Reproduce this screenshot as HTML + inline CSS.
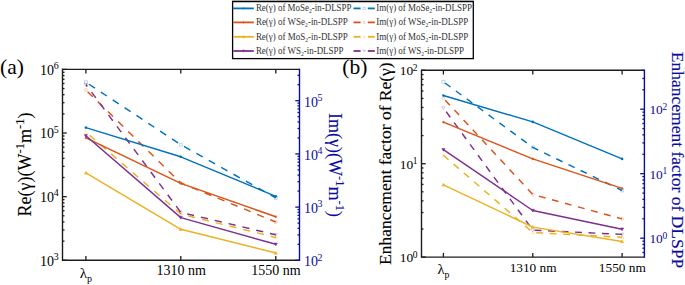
<!DOCTYPE html>
<html><head><meta charset="utf-8"><style>
html,body{margin:0;padding:0;background:#fff;width:685px;height:285px;overflow:hidden}
svg{display:block;font-family:"Liberation Serif", serif}
</style></head><body>
<svg width="685" height="285" viewBox="0 0 685 285">
<line x1="62.50" y1="69.40" x2="299.50" y2="69.40" stroke="#1c1c1c" stroke-width="1.4" />
<line x1="62.50" y1="260.30" x2="299.50" y2="260.30" stroke="#1c1c1c" stroke-width="1.4" />
<line x1="62.50" y1="68.70" x2="62.50" y2="261.00" stroke="#1c1c1c" stroke-width="1.4" />
<line x1="299.50" y1="68.70" x2="299.50" y2="261.00" stroke="#0c0c9c" stroke-width="1.4" />
<line x1="85.90" y1="260.30" x2="85.90" y2="256.10" stroke="#1c1c1c" stroke-width="1.3" />
<line x1="85.90" y1="69.40" x2="85.90" y2="73.60" stroke="#1c1c1c" stroke-width="1.3" />
<line x1="180.80" y1="260.30" x2="180.80" y2="256.10" stroke="#1c1c1c" stroke-width="1.3" />
<line x1="180.80" y1="69.40" x2="180.80" y2="73.60" stroke="#1c1c1c" stroke-width="1.3" />
<line x1="275.80" y1="260.30" x2="275.80" y2="256.10" stroke="#1c1c1c" stroke-width="1.3" />
<line x1="275.80" y1="69.40" x2="275.80" y2="73.60" stroke="#1c1c1c" stroke-width="1.3" />
<line x1="62.50" y1="260.30" x2="66.70" y2="260.30" stroke="#1c1c1c" stroke-width="1.3" />
<line x1="62.50" y1="241.14" x2="64.50" y2="241.14" stroke="#1c1c1c" stroke-width="1.3" />
<line x1="62.50" y1="229.94" x2="64.50" y2="229.94" stroke="#1c1c1c" stroke-width="1.3" />
<line x1="62.50" y1="221.99" x2="64.50" y2="221.99" stroke="#1c1c1c" stroke-width="1.3" />
<line x1="62.50" y1="215.82" x2="64.50" y2="215.82" stroke="#1c1c1c" stroke-width="1.3" />
<line x1="62.50" y1="210.78" x2="64.50" y2="210.78" stroke="#1c1c1c" stroke-width="1.3" />
<line x1="62.50" y1="206.52" x2="64.50" y2="206.52" stroke="#1c1c1c" stroke-width="1.3" />
<line x1="62.50" y1="202.83" x2="64.50" y2="202.83" stroke="#1c1c1c" stroke-width="1.3" />
<line x1="62.50" y1="199.58" x2="64.50" y2="199.58" stroke="#1c1c1c" stroke-width="1.3" />
<line x1="62.50" y1="196.67" x2="66.70" y2="196.67" stroke="#1c1c1c" stroke-width="1.3" />
<line x1="62.50" y1="177.51" x2="64.50" y2="177.51" stroke="#1c1c1c" stroke-width="1.3" />
<line x1="62.50" y1="166.31" x2="64.50" y2="166.31" stroke="#1c1c1c" stroke-width="1.3" />
<line x1="62.50" y1="158.36" x2="64.50" y2="158.36" stroke="#1c1c1c" stroke-width="1.3" />
<line x1="62.50" y1="152.19" x2="64.50" y2="152.19" stroke="#1c1c1c" stroke-width="1.3" />
<line x1="62.50" y1="147.15" x2="64.50" y2="147.15" stroke="#1c1c1c" stroke-width="1.3" />
<line x1="62.50" y1="142.89" x2="64.50" y2="142.89" stroke="#1c1c1c" stroke-width="1.3" />
<line x1="62.50" y1="139.20" x2="64.50" y2="139.20" stroke="#1c1c1c" stroke-width="1.3" />
<line x1="62.50" y1="135.95" x2="64.50" y2="135.95" stroke="#1c1c1c" stroke-width="1.3" />
<line x1="62.50" y1="133.03" x2="66.70" y2="133.03" stroke="#1c1c1c" stroke-width="1.3" />
<line x1="62.50" y1="113.88" x2="64.50" y2="113.88" stroke="#1c1c1c" stroke-width="1.3" />
<line x1="62.50" y1="102.67" x2="64.50" y2="102.67" stroke="#1c1c1c" stroke-width="1.3" />
<line x1="62.50" y1="94.72" x2="64.50" y2="94.72" stroke="#1c1c1c" stroke-width="1.3" />
<line x1="62.50" y1="88.56" x2="64.50" y2="88.56" stroke="#1c1c1c" stroke-width="1.3" />
<line x1="62.50" y1="83.52" x2="64.50" y2="83.52" stroke="#1c1c1c" stroke-width="1.3" />
<line x1="62.50" y1="79.26" x2="64.50" y2="79.26" stroke="#1c1c1c" stroke-width="1.3" />
<line x1="62.50" y1="75.57" x2="64.50" y2="75.57" stroke="#1c1c1c" stroke-width="1.3" />
<line x1="62.50" y1="72.31" x2="64.50" y2="72.31" stroke="#1c1c1c" stroke-width="1.3" />
<line x1="62.50" y1="69.40" x2="66.70" y2="69.40" stroke="#1c1c1c" stroke-width="1.3" />
<line x1="299.50" y1="260.30" x2="295.30" y2="260.30" stroke="#0c0c9c" stroke-width="1.3" />
<line x1="299.50" y1="244.29" x2="297.50" y2="244.29" stroke="#0c0c9c" stroke-width="1.3" />
<line x1="299.50" y1="234.92" x2="297.50" y2="234.92" stroke="#0c0c9c" stroke-width="1.3" />
<line x1="299.50" y1="228.27" x2="297.50" y2="228.27" stroke="#0c0c9c" stroke-width="1.3" />
<line x1="299.50" y1="223.11" x2="297.50" y2="223.11" stroke="#0c0c9c" stroke-width="1.3" />
<line x1="299.50" y1="218.90" x2="297.50" y2="218.90" stroke="#0c0c9c" stroke-width="1.3" />
<line x1="299.50" y1="215.34" x2="297.50" y2="215.34" stroke="#0c0c9c" stroke-width="1.3" />
<line x1="299.50" y1="212.26" x2="297.50" y2="212.26" stroke="#0c0c9c" stroke-width="1.3" />
<line x1="299.50" y1="209.53" x2="297.50" y2="209.53" stroke="#0c0c9c" stroke-width="1.3" />
<line x1="299.50" y1="207.10" x2="295.30" y2="207.10" stroke="#0c0c9c" stroke-width="1.3" />
<line x1="299.50" y1="191.09" x2="297.50" y2="191.09" stroke="#0c0c9c" stroke-width="1.3" />
<line x1="299.50" y1="181.72" x2="297.50" y2="181.72" stroke="#0c0c9c" stroke-width="1.3" />
<line x1="299.50" y1="175.07" x2="297.50" y2="175.07" stroke="#0c0c9c" stroke-width="1.3" />
<line x1="299.50" y1="169.91" x2="297.50" y2="169.91" stroke="#0c0c9c" stroke-width="1.3" />
<line x1="299.50" y1="165.70" x2="297.50" y2="165.70" stroke="#0c0c9c" stroke-width="1.3" />
<line x1="299.50" y1="162.14" x2="297.50" y2="162.14" stroke="#0c0c9c" stroke-width="1.3" />
<line x1="299.50" y1="159.06" x2="297.50" y2="159.06" stroke="#0c0c9c" stroke-width="1.3" />
<line x1="299.50" y1="156.33" x2="297.50" y2="156.33" stroke="#0c0c9c" stroke-width="1.3" />
<line x1="299.50" y1="153.90" x2="295.30" y2="153.90" stroke="#0c0c9c" stroke-width="1.3" />
<line x1="299.50" y1="137.89" x2="297.50" y2="137.89" stroke="#0c0c9c" stroke-width="1.3" />
<line x1="299.50" y1="128.52" x2="297.50" y2="128.52" stroke="#0c0c9c" stroke-width="1.3" />
<line x1="299.50" y1="121.87" x2="297.50" y2="121.87" stroke="#0c0c9c" stroke-width="1.3" />
<line x1="299.50" y1="116.71" x2="297.50" y2="116.71" stroke="#0c0c9c" stroke-width="1.3" />
<line x1="299.50" y1="112.50" x2="297.50" y2="112.50" stroke="#0c0c9c" stroke-width="1.3" />
<line x1="299.50" y1="108.94" x2="297.50" y2="108.94" stroke="#0c0c9c" stroke-width="1.3" />
<line x1="299.50" y1="105.86" x2="297.50" y2="105.86" stroke="#0c0c9c" stroke-width="1.3" />
<line x1="299.50" y1="103.13" x2="297.50" y2="103.13" stroke="#0c0c9c" stroke-width="1.3" />
<line x1="299.50" y1="100.70" x2="295.30" y2="100.70" stroke="#0c0c9c" stroke-width="1.3" />
<line x1="299.50" y1="84.69" x2="297.50" y2="84.69" stroke="#0c0c9c" stroke-width="1.3" />
<line x1="299.50" y1="75.32" x2="297.50" y2="75.32" stroke="#0c0c9c" stroke-width="1.3" />
<polyline points="85.90,82.20 180.80,144.70 275.80,197.90" fill="none" stroke="#0072BD" stroke-width="1.45" stroke-linejoin="round" stroke-dasharray="7.2,7.0" stroke-dashoffset="10.5"/>
<polyline points="85.90,90.00 180.80,183.00 275.80,222.00" fill="none" stroke="#D95319" stroke-width="1.45" stroke-linejoin="round" stroke-dasharray="7.2,7.0" stroke-dashoffset="11.8"/>
<polyline points="85.90,132.10 180.80,214.00 275.80,237.50" fill="none" stroke="#EDB120" stroke-width="1.45" stroke-linejoin="round" stroke-dasharray="7.2,7.0" stroke-dashoffset="9.2"/>
<polyline points="85.90,84.50 180.80,212.40 275.80,234.80" fill="none" stroke="#7E2F8E" stroke-width="1.45" stroke-linejoin="round" stroke-dasharray="7.2,7.0" stroke-dashoffset="4.7"/>
<rect x="84.46" y="80.76" width="2.89" height="2.89" fill="none" stroke="#0072BD" stroke-width="0.8" stroke-opacity="0.32"/>
<rect x="179.36" y="143.25" width="2.89" height="2.89" fill="none" stroke="#0072BD" stroke-width="0.8" stroke-opacity="0.32"/>
<rect x="274.36" y="196.46" width="2.89" height="2.89" fill="none" stroke="#0072BD" stroke-width="0.8" stroke-opacity="0.32"/>
<circle cx="85.90" cy="90.00" r="1.44" fill="none" stroke="#D95319" stroke-width="0.8" stroke-opacity="0.32"/>
<circle cx="180.80" cy="183.00" r="1.44" fill="none" stroke="#D95319" stroke-width="0.8" stroke-opacity="0.32"/>
<circle cx="275.80" cy="222.00" r="1.44" fill="none" stroke="#D95319" stroke-width="0.8" stroke-opacity="0.32"/>
<polygon points="85.90,130.48 84.29,133.39 87.52,133.39" fill="none" stroke="#EDB120" stroke-width="0.8" stroke-opacity="0.32"/>
<polygon points="180.80,212.38 179.19,215.29 182.42,215.29" fill="none" stroke="#EDB120" stroke-width="0.8" stroke-opacity="0.32"/>
<polygon points="275.80,235.88 274.19,238.79 277.42,238.79" fill="none" stroke="#EDB120" stroke-width="0.8" stroke-opacity="0.32"/>
<polygon points="85.90,86.11 84.29,83.21 87.52,83.21" fill="none" stroke="#7E2F8E" stroke-width="0.8" stroke-opacity="0.32"/>
<polygon points="180.80,214.02 179.19,211.11 182.42,211.11" fill="none" stroke="#7E2F8E" stroke-width="0.8" stroke-opacity="0.32"/>
<polygon points="275.80,236.42 274.19,233.51 277.42,233.51" fill="none" stroke="#7E2F8E" stroke-width="0.8" stroke-opacity="0.32"/>
<polyline points="85.90,127.60 180.80,156.80 275.80,196.30" fill="none" stroke="#0072BD" stroke-width="1.45" stroke-linejoin="round"/>
<polyline points="85.90,137.90 180.80,183.40 275.80,216.80" fill="none" stroke="#D95319" stroke-width="1.45" stroke-linejoin="round"/>
<polyline points="85.90,172.90 180.80,229.30 275.80,253.00" fill="none" stroke="#EDB120" stroke-width="1.45" stroke-linejoin="round"/>
<polyline points="85.90,135.80 180.80,217.60 275.80,244.30" fill="none" stroke="#7E2F8E" stroke-width="1.45" stroke-linejoin="round"/>
<circle cx="85.90" cy="127.60" r="1.28" fill="#0072BD"/>
<circle cx="180.80" cy="156.80" r="1.28" fill="#0072BD"/>
<circle cx="275.80" cy="196.30" r="1.28" fill="#0072BD"/>
<line x1="84.62" y1="137.90" x2="87.18" y2="137.90" stroke="#D95319" stroke-width="1.0" />
<line x1="85.90" y1="136.62" x2="85.90" y2="139.18" stroke="#D95319" stroke-width="1.0" />
<line x1="179.52" y1="183.40" x2="182.08" y2="183.40" stroke="#D95319" stroke-width="1.0" />
<line x1="180.80" y1="182.12" x2="180.80" y2="184.68" stroke="#D95319" stroke-width="1.0" />
<line x1="274.52" y1="216.80" x2="277.08" y2="216.80" stroke="#D95319" stroke-width="1.0" />
<line x1="275.80" y1="215.52" x2="275.80" y2="218.08" stroke="#D95319" stroke-width="1.0" />
<polygon points="85.90,171.38 84.38,174.12 87.42,174.12" fill="#EDB120" stroke="#EDB120" stroke-width="0.6"/>
<polygon points="180.80,227.78 179.28,230.52 182.32,230.52" fill="#EDB120" stroke="#EDB120" stroke-width="0.6"/>
<polygon points="275.80,251.48 274.28,254.22 277.32,254.22" fill="#EDB120" stroke="#EDB120" stroke-width="0.6"/>
<polygon points="85.90,137.32 84.38,134.58 87.42,134.58" fill="#7E2F8E" stroke="#7E2F8E" stroke-width="0.6"/>
<polygon points="180.80,219.12 179.28,216.38 182.32,216.38" fill="#7E2F8E" stroke="#7E2F8E" stroke-width="0.6"/>
<polygon points="275.80,245.82 274.28,243.08 277.32,243.08" fill="#7E2F8E" stroke="#7E2F8E" stroke-width="0.6"/>
<line x1="421.50" y1="70.30" x2="644.40" y2="70.30" stroke="#1c1c1c" stroke-width="1.4" />
<line x1="421.50" y1="257.10" x2="644.40" y2="257.10" stroke="#1c1c1c" stroke-width="1.4" />
<line x1="421.50" y1="69.60" x2="421.50" y2="257.80" stroke="#1c1c1c" stroke-width="1.4" />
<line x1="644.40" y1="69.60" x2="644.40" y2="257.80" stroke="#0c0c9c" stroke-width="1.4" />
<line x1="443.40" y1="257.10" x2="443.40" y2="252.90" stroke="#1c1c1c" stroke-width="1.3" />
<line x1="443.40" y1="70.30" x2="443.40" y2="74.50" stroke="#1c1c1c" stroke-width="1.3" />
<line x1="532.80" y1="257.10" x2="532.80" y2="252.90" stroke="#1c1c1c" stroke-width="1.3" />
<line x1="532.80" y1="70.30" x2="532.80" y2="74.50" stroke="#1c1c1c" stroke-width="1.3" />
<line x1="622.10" y1="257.10" x2="622.10" y2="252.90" stroke="#1c1c1c" stroke-width="1.3" />
<line x1="622.10" y1="70.30" x2="622.10" y2="74.50" stroke="#1c1c1c" stroke-width="1.3" />
<line x1="421.50" y1="257.10" x2="425.70" y2="257.10" stroke="#1c1c1c" stroke-width="1.3" />
<line x1="421.50" y1="228.98" x2="423.50" y2="228.98" stroke="#1c1c1c" stroke-width="1.3" />
<line x1="421.50" y1="212.54" x2="423.50" y2="212.54" stroke="#1c1c1c" stroke-width="1.3" />
<line x1="421.50" y1="200.87" x2="423.50" y2="200.87" stroke="#1c1c1c" stroke-width="1.3" />
<line x1="421.50" y1="191.82" x2="423.50" y2="191.82" stroke="#1c1c1c" stroke-width="1.3" />
<line x1="421.50" y1="184.42" x2="423.50" y2="184.42" stroke="#1c1c1c" stroke-width="1.3" />
<line x1="421.50" y1="178.17" x2="423.50" y2="178.17" stroke="#1c1c1c" stroke-width="1.3" />
<line x1="421.50" y1="172.75" x2="423.50" y2="172.75" stroke="#1c1c1c" stroke-width="1.3" />
<line x1="421.50" y1="167.97" x2="423.50" y2="167.97" stroke="#1c1c1c" stroke-width="1.3" />
<line x1="421.50" y1="163.70" x2="425.70" y2="163.70" stroke="#1c1c1c" stroke-width="1.3" />
<line x1="421.50" y1="135.58" x2="423.50" y2="135.58" stroke="#1c1c1c" stroke-width="1.3" />
<line x1="421.50" y1="119.14" x2="423.50" y2="119.14" stroke="#1c1c1c" stroke-width="1.3" />
<line x1="421.50" y1="107.47" x2="423.50" y2="107.47" stroke="#1c1c1c" stroke-width="1.3" />
<line x1="421.50" y1="98.42" x2="423.50" y2="98.42" stroke="#1c1c1c" stroke-width="1.3" />
<line x1="421.50" y1="91.02" x2="423.50" y2="91.02" stroke="#1c1c1c" stroke-width="1.3" />
<line x1="421.50" y1="84.77" x2="423.50" y2="84.77" stroke="#1c1c1c" stroke-width="1.3" />
<line x1="421.50" y1="79.35" x2="423.50" y2="79.35" stroke="#1c1c1c" stroke-width="1.3" />
<line x1="421.50" y1="74.57" x2="423.50" y2="74.57" stroke="#1c1c1c" stroke-width="1.3" />
<line x1="421.50" y1="70.30" x2="425.70" y2="70.30" stroke="#1c1c1c" stroke-width="1.3" />
<line x1="644.40" y1="252.51" x2="642.40" y2="252.51" stroke="#0c0c9c" stroke-width="1.3" />
<line x1="644.40" y1="248.19" x2="642.40" y2="248.19" stroke="#0c0c9c" stroke-width="1.3" />
<line x1="644.40" y1="244.45" x2="642.40" y2="244.45" stroke="#0c0c9c" stroke-width="1.3" />
<line x1="644.40" y1="241.15" x2="642.40" y2="241.15" stroke="#0c0c9c" stroke-width="1.3" />
<line x1="644.40" y1="238.20" x2="640.20" y2="238.20" stroke="#0c0c9c" stroke-width="1.3" />
<line x1="644.40" y1="218.78" x2="642.40" y2="218.78" stroke="#0c0c9c" stroke-width="1.3" />
<line x1="644.40" y1="207.43" x2="642.40" y2="207.43" stroke="#0c0c9c" stroke-width="1.3" />
<line x1="644.40" y1="199.37" x2="642.40" y2="199.37" stroke="#0c0c9c" stroke-width="1.3" />
<line x1="644.40" y1="193.12" x2="642.40" y2="193.12" stroke="#0c0c9c" stroke-width="1.3" />
<line x1="644.40" y1="188.01" x2="642.40" y2="188.01" stroke="#0c0c9c" stroke-width="1.3" />
<line x1="644.40" y1="183.69" x2="642.40" y2="183.69" stroke="#0c0c9c" stroke-width="1.3" />
<line x1="644.40" y1="179.95" x2="642.40" y2="179.95" stroke="#0c0c9c" stroke-width="1.3" />
<line x1="644.40" y1="176.65" x2="642.40" y2="176.65" stroke="#0c0c9c" stroke-width="1.3" />
<line x1="644.40" y1="173.70" x2="640.20" y2="173.70" stroke="#0c0c9c" stroke-width="1.3" />
<line x1="644.40" y1="154.28" x2="642.40" y2="154.28" stroke="#0c0c9c" stroke-width="1.3" />
<line x1="644.40" y1="142.93" x2="642.40" y2="142.93" stroke="#0c0c9c" stroke-width="1.3" />
<line x1="644.40" y1="134.87" x2="642.40" y2="134.87" stroke="#0c0c9c" stroke-width="1.3" />
<line x1="644.40" y1="128.62" x2="642.40" y2="128.62" stroke="#0c0c9c" stroke-width="1.3" />
<line x1="644.40" y1="123.51" x2="642.40" y2="123.51" stroke="#0c0c9c" stroke-width="1.3" />
<line x1="644.40" y1="119.19" x2="642.40" y2="119.19" stroke="#0c0c9c" stroke-width="1.3" />
<line x1="644.40" y1="115.45" x2="642.40" y2="115.45" stroke="#0c0c9c" stroke-width="1.3" />
<line x1="644.40" y1="112.15" x2="642.40" y2="112.15" stroke="#0c0c9c" stroke-width="1.3" />
<line x1="644.40" y1="109.20" x2="640.20" y2="109.20" stroke="#0c0c9c" stroke-width="1.3" />
<line x1="644.40" y1="89.78" x2="642.40" y2="89.78" stroke="#0c0c9c" stroke-width="1.3" />
<line x1="644.40" y1="78.43" x2="642.40" y2="78.43" stroke="#0c0c9c" stroke-width="1.3" />
<line x1="644.40" y1="70.37" x2="642.40" y2="70.37" stroke="#0c0c9c" stroke-width="1.3" />
<polyline points="443.40,81.80 532.80,147.40 622.10,190.50" fill="none" stroke="#0072BD" stroke-width="1.45" stroke-linejoin="round" stroke-dasharray="6.85,6.65" stroke-dashoffset="11.5"/>
<polyline points="443.40,98.20 532.80,194.50 622.10,218.90" fill="none" stroke="#D95319" stroke-width="1.45" stroke-linejoin="round" stroke-dasharray="6.85,6.65" stroke-dashoffset="10.8"/>
<polyline points="443.40,155.30 532.80,232.50 622.10,237.30" fill="none" stroke="#EDB120" stroke-width="1.45" stroke-linejoin="round" stroke-dasharray="6.85,6.65" stroke-dashoffset="0.0"/>
<polyline points="443.40,107.90 532.80,230.10 622.10,234.40" fill="none" stroke="#7E2F8E" stroke-width="1.45" stroke-linejoin="round" stroke-dasharray="6.85,6.65" stroke-dashoffset="8.8"/>
<rect x="441.95" y="80.36" width="2.89" height="2.89" fill="none" stroke="#0072BD" stroke-width="0.8" stroke-opacity="0.32"/>
<rect x="531.35" y="145.96" width="2.89" height="2.89" fill="none" stroke="#0072BD" stroke-width="0.8" stroke-opacity="0.32"/>
<rect x="620.65" y="189.06" width="2.89" height="2.89" fill="none" stroke="#0072BD" stroke-width="0.8" stroke-opacity="0.32"/>
<circle cx="443.40" cy="98.20" r="1.44" fill="none" stroke="#D95319" stroke-width="0.8" stroke-opacity="0.32"/>
<circle cx="532.80" cy="194.50" r="1.44" fill="none" stroke="#D95319" stroke-width="0.8" stroke-opacity="0.32"/>
<circle cx="622.10" cy="218.90" r="1.44" fill="none" stroke="#D95319" stroke-width="0.8" stroke-opacity="0.32"/>
<polygon points="443.40,153.69 441.78,156.59 445.01,156.59" fill="none" stroke="#EDB120" stroke-width="0.8" stroke-opacity="0.32"/>
<polygon points="532.80,230.88 531.18,233.79 534.41,233.79" fill="none" stroke="#EDB120" stroke-width="0.8" stroke-opacity="0.32"/>
<polygon points="622.10,235.69 620.49,238.59 623.72,238.59" fill="none" stroke="#EDB120" stroke-width="0.8" stroke-opacity="0.32"/>
<polygon points="443.40,109.52 441.78,106.61 445.01,106.61" fill="none" stroke="#7E2F8E" stroke-width="0.8" stroke-opacity="0.32"/>
<polygon points="532.80,231.72 531.18,228.81 534.41,228.81" fill="none" stroke="#7E2F8E" stroke-width="0.8" stroke-opacity="0.32"/>
<polygon points="622.10,236.02 620.49,233.11 623.72,233.11" fill="none" stroke="#7E2F8E" stroke-width="0.8" stroke-opacity="0.32"/>
<polyline points="443.40,95.50 532.80,121.90 622.10,158.90" fill="none" stroke="#0072BD" stroke-width="1.45" stroke-linejoin="round"/>
<polyline points="443.40,122.10 532.80,158.90 622.10,188.40" fill="none" stroke="#D95319" stroke-width="1.45" stroke-linejoin="round"/>
<polyline points="443.40,184.80 532.80,227.10 622.10,241.50" fill="none" stroke="#EDB120" stroke-width="1.45" stroke-linejoin="round"/>
<polyline points="443.40,149.70 532.80,210.50 622.10,229.20" fill="none" stroke="#7E2F8E" stroke-width="1.45" stroke-linejoin="round"/>
<circle cx="443.40" cy="95.50" r="1.28" fill="#0072BD"/>
<circle cx="532.80" cy="121.90" r="1.28" fill="#0072BD"/>
<circle cx="622.10" cy="158.90" r="1.28" fill="#0072BD"/>
<line x1="442.12" y1="122.10" x2="444.68" y2="122.10" stroke="#D95319" stroke-width="1.0" />
<line x1="443.40" y1="120.82" x2="443.40" y2="123.38" stroke="#D95319" stroke-width="1.0" />
<line x1="531.52" y1="158.90" x2="534.08" y2="158.90" stroke="#D95319" stroke-width="1.0" />
<line x1="532.80" y1="157.62" x2="532.80" y2="160.18" stroke="#D95319" stroke-width="1.0" />
<line x1="620.82" y1="188.40" x2="623.38" y2="188.40" stroke="#D95319" stroke-width="1.0" />
<line x1="622.10" y1="187.12" x2="622.10" y2="189.68" stroke="#D95319" stroke-width="1.0" />
<polygon points="443.40,183.28 441.88,186.02 444.92,186.02" fill="#EDB120" stroke="#EDB120" stroke-width="0.6"/>
<polygon points="532.80,225.58 531.28,228.32 534.32,228.32" fill="#EDB120" stroke="#EDB120" stroke-width="0.6"/>
<polygon points="622.10,239.98 620.58,242.72 623.62,242.72" fill="#EDB120" stroke="#EDB120" stroke-width="0.6"/>
<polygon points="443.40,151.22 441.88,148.48 444.92,148.48" fill="#7E2F8E" stroke="#7E2F8E" stroke-width="0.6"/>
<polygon points="532.80,212.02 531.28,209.28 534.32,209.28" fill="#7E2F8E" stroke="#7E2F8E" stroke-width="0.6"/>
<polygon points="622.10,230.72 620.58,227.98 623.62,227.98" fill="#7E2F8E" stroke="#7E2F8E" stroke-width="0.6"/>
<text x="58.60" y="265.50" font-size="14" fill="#000" text-anchor="end" >10<tspan font-size="9.94" dx="-0.4" dy="-5.60">3</tspan></text>
<text x="58.60" y="201.87" font-size="14" fill="#000" text-anchor="end" >10<tspan font-size="9.94" dx="-0.4" dy="-5.60">4</tspan></text>
<text x="58.60" y="138.23" font-size="14" fill="#000" text-anchor="end" >10<tspan font-size="9.94" dx="-0.4" dy="-5.60">5</tspan></text>
<text x="58.60" y="74.60" font-size="14" fill="#000" text-anchor="end" >10<tspan font-size="9.94" dx="-0.4" dy="-5.60">6</tspan></text>
<text x="304.00" y="266.10" font-size="14" fill="#0c0c9c" text-anchor="start" >10<tspan font-size="9.94" dx="-0.4" dy="-5.60">2</tspan></text>
<text x="304.00" y="212.90" font-size="14" fill="#0c0c9c" text-anchor="start" >10<tspan font-size="9.94" dx="-0.4" dy="-5.60">3</tspan></text>
<text x="304.00" y="159.70" font-size="14" fill="#0c0c9c" text-anchor="start" >10<tspan font-size="9.94" dx="-0.4" dy="-5.60">4</tspan></text>
<text x="304.00" y="106.50" font-size="14" fill="#0c0c9c" text-anchor="start" >10<tspan font-size="9.94" dx="-0.4" dy="-5.60">5</tspan></text>
<text x="417.50" y="262.20" font-size="13.4" fill="#000" text-anchor="end" >10<tspan font-size="9.51" dx="-0.4" dy="-4.42">0</tspan></text>
<text x="417.50" y="168.80" font-size="13.4" fill="#000" text-anchor="end" >10<tspan font-size="9.51" dx="-0.4" dy="-4.42">1</tspan></text>
<text x="417.50" y="75.40" font-size="13.4" fill="#000" text-anchor="end" >10<tspan font-size="9.51" dx="-0.4" dy="-4.42">2</tspan></text>
<text x="649.40" y="243.30" font-size="13.4" fill="#0c0c9c" text-anchor="start" >10<tspan font-size="9.51" dx="-0.4" dy="-4.42">0</tspan></text>
<text x="649.40" y="178.80" font-size="13.4" fill="#0c0c9c" text-anchor="start" >10<tspan font-size="9.51" dx="-0.4" dy="-4.42">1</tspan></text>
<text x="649.40" y="114.30" font-size="13.4" fill="#0c0c9c" text-anchor="start" >10<tspan font-size="9.51" dx="-0.4" dy="-4.42">2</tspan></text>
<text x="85.90" y="277.80" font-size="15" fill="#000" text-anchor="middle" >λ<tspan font-size="10.05" dy="4.20">p</tspan></text>
<text x="181.10" y="275.20" font-size="14" fill="#000" text-anchor="middle" >1310 nm</text>
<text x="276.00" y="275.20" font-size="14" fill="#000" text-anchor="middle" >1550 nm</text>
<text x="443.40" y="274.20" font-size="14.6" fill="#000" text-anchor="middle" >λ<tspan font-size="9.78" dy="4.09">p</tspan></text>
<text x="533.10" y="271.60" font-size="13.3" fill="#000" text-anchor="middle" >1310 nm</text>
<text x="622.30" y="271.60" font-size="13.3" fill="#000" text-anchor="middle" >1550 nm</text>
<text x="30.50" y="164.50" font-size="18" fill="#000" stroke="#000" stroke-width="0.1" text-anchor="middle" transform="rotate(-90 30.5 164.5)">Re(γ)(W<tspan font-size="12.5" dy="-7">-1</tspan><tspan dy="7">m</tspan><tspan font-size="12.5" dy="-7">-1</tspan><tspan dy="7">)</tspan></text>
<text x="329.00" y="165.00" font-size="18" fill="#0c0c9c" stroke="#0c0c9c" stroke-width="0.12" text-anchor="middle" transform="rotate(90 329 165)">Im(γ)(W<tspan font-size="12.5" dy="-7">-1</tspan><tspan dy="7">m</tspan><tspan font-size="12.5" dy="-7">-1</tspan><tspan dy="7">)</tspan></text>
<text x="391.40" y="163.60" font-size="17.5" fill="#000" stroke="#000" stroke-width="0.12" text-anchor="middle" transform="rotate(-90 391.4 163.6)">Enhancement factor of Re(γ)</text>
<text x="671.80" y="160.00" font-size="17.5" fill="#0c0c9c" stroke="#0c0c9c" stroke-width="0.15" text-anchor="middle" transform="rotate(90 671.8 160)">Enhancement factor of DLSPP</text>
<text x="0.00" y="74.30" font-size="21.5" fill="#000" text-anchor="start" >(a)</text>
<text x="342.30" y="74.30" font-size="21.5" fill="#000" text-anchor="start" >(b)</text>
<rect x="232" y="0" width="241.8" height="1" fill="#b2b2b2"/>
<rect x="232.6" y="1.6" width="240.70000000000002" height="57.0" fill="#fff" stroke="#000" stroke-width="1.3"/>
<line x1="233.20" y1="8.40" x2="253.80" y2="8.40" stroke="#0072BD" stroke-width="1.8" />
<circle cx="243.50" cy="8.40" r="0.96" fill="#0072BD"/>
<text x="255.90" y="11.10" font-size="9.5" fill="#333" text-anchor="start" textLength="95.6" lengthAdjust="spacingAndGlyphs">Re(γ) of MoSe<tspan font-size="6" dy="2.2">2</tspan><tspan dy="-2.2">-in-DLSPP</tspan></text>
<line x1="353.50" y1="8.40" x2="360.60" y2="8.40" stroke="#0072BD" stroke-width="1.8" />
<line x1="367.80" y1="8.40" x2="374.80" y2="8.40" stroke="#0072BD" stroke-width="1.8" />
<rect x="363.09" y="7.29" width="2.21" height="2.21" fill="none" stroke="#0072BD" stroke-width="0.8" stroke-opacity="0.32"/>
<text x="376.30" y="11.10" font-size="9.5" fill="#333" text-anchor="start" textLength="95.6" lengthAdjust="spacingAndGlyphs">Im(γ) of MoSe<tspan font-size="6" dy="2.2">2</tspan><tspan dy="-2.2">-in-DLSPP</tspan></text>
<line x1="233.20" y1="22.40" x2="253.80" y2="22.40" stroke="#D95319" stroke-width="1.8" />
<line x1="242.54" y1="22.40" x2="244.46" y2="22.40" stroke="#D95319" stroke-width="1.0" />
<line x1="243.50" y1="21.44" x2="243.50" y2="23.36" stroke="#D95319" stroke-width="1.0" />
<text x="255.90" y="25.10" font-size="9.5" fill="#333" text-anchor="start" textLength="91.9" lengthAdjust="spacingAndGlyphs">Re(γ) of WSe<tspan font-size="6" dy="2.2">2</tspan><tspan dy="-2.2">-in-DLSPP</tspan></text>
<line x1="353.50" y1="22.40" x2="360.60" y2="22.40" stroke="#D95319" stroke-width="1.8" />
<line x1="367.80" y1="22.40" x2="374.80" y2="22.40" stroke="#D95319" stroke-width="1.8" />
<circle cx="364.20" cy="22.40" r="1.10" fill="none" stroke="#D95319" stroke-width="0.8" stroke-opacity="0.32"/>
<text x="376.30" y="25.10" font-size="9.5" fill="#333" text-anchor="start" textLength="91.9" lengthAdjust="spacingAndGlyphs">Im(γ) of WSe<tspan font-size="6" dy="2.2">2</tspan><tspan dy="-2.2">-in-DLSPP</tspan></text>
<line x1="233.20" y1="36.80" x2="253.80" y2="36.80" stroke="#EDB120" stroke-width="1.8" />
<polygon points="243.50,35.66 242.36,37.71 244.64,37.71" fill="#EDB120" stroke="#EDB120" stroke-width="0.6"/>
<text x="255.90" y="39.50" font-size="9.5" fill="#333" text-anchor="start" textLength="91.9" lengthAdjust="spacingAndGlyphs">Re(γ) of MoS<tspan font-size="6" dy="2.2">2</tspan><tspan dy="-2.2">-in-DLSPP</tspan></text>
<line x1="353.50" y1="36.80" x2="360.60" y2="36.80" stroke="#EDB120" stroke-width="1.8" />
<line x1="367.80" y1="36.80" x2="374.80" y2="36.80" stroke="#EDB120" stroke-width="1.8" />
<polygon points="364.20,35.56 362.96,37.79 365.44,37.79" fill="none" stroke="#EDB120" stroke-width="0.8" stroke-opacity="0.32"/>
<text x="376.30" y="39.50" font-size="9.5" fill="#333" text-anchor="start" textLength="91.9" lengthAdjust="spacingAndGlyphs">Im(γ) of MoS<tspan font-size="6" dy="2.2">2</tspan><tspan dy="-2.2">-in-DLSPP</tspan></text>
<line x1="233.20" y1="51.00" x2="253.80" y2="51.00" stroke="#7E2F8E" stroke-width="1.8" />
<polygon points="243.50,52.14 242.36,50.09 244.64,50.09" fill="#7E2F8E" stroke="#7E2F8E" stroke-width="0.6"/>
<text x="255.90" y="53.70" font-size="9.5" fill="#333" text-anchor="start" textLength="87.6" lengthAdjust="spacingAndGlyphs">Re(γ) of WS<tspan font-size="6" dy="2.2">2</tspan><tspan dy="-2.2">-in-DLSPP</tspan></text>
<line x1="353.50" y1="51.00" x2="360.60" y2="51.00" stroke="#7E2F8E" stroke-width="1.8" />
<line x1="367.80" y1="51.00" x2="374.80" y2="51.00" stroke="#7E2F8E" stroke-width="1.8" />
<polygon points="364.20,52.23 362.96,50.01 365.44,50.01" fill="none" stroke="#7E2F8E" stroke-width="0.8" stroke-opacity="0.32"/>
<text x="376.30" y="53.70" font-size="9.5" fill="#333" text-anchor="start" textLength="87.6" lengthAdjust="spacingAndGlyphs">Im(γ) of WS<tspan font-size="6" dy="2.2">2</tspan><tspan dy="-2.2">-in-DLSPP</tspan></text>
</svg></body></html>
